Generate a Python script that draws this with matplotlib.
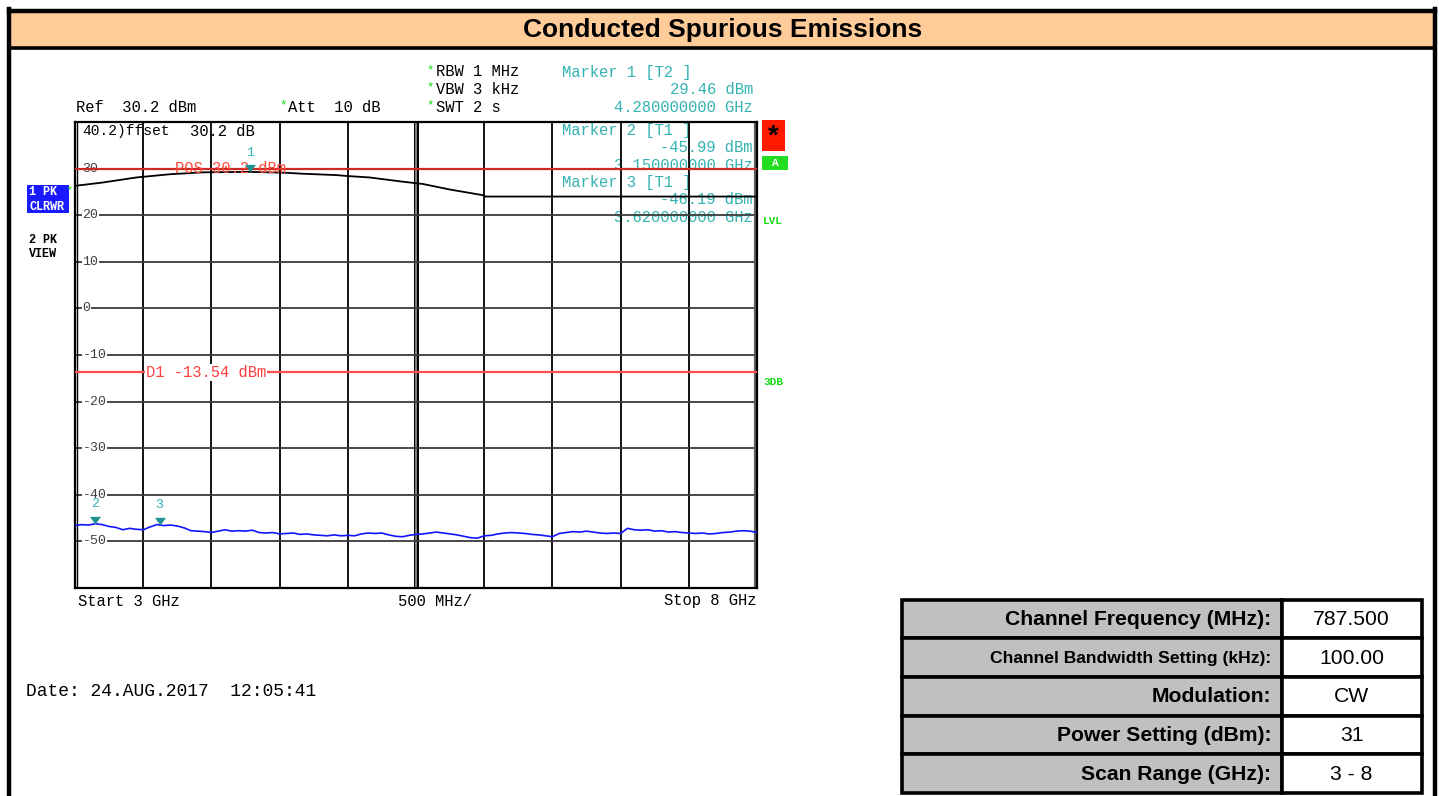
import numpy as np
import matplotlib
matplotlib.use("Agg")
import matplotlib.pyplot as plt
from matplotlib.patches import Rectangle

# ---------------- data ----------------
start_ghz = 3.0
stop_ghz = 8.0
ref_level = 30.2
top_level = 40.2
bottom_level = -59.8
pos_line = 30.2
d1_line = -13.54

# Trace 1 (blue, clear/write peak) sampled every 50 MHz from 3 to 8 GHz
trace1_freq = np.linspace(3.0, 8.0, 101)
trace1_level = [
    -46.4, -46.2, -46.3, -46.0, -46.2, -46.6, -46.8, -47.3, -47.0, -47.2,
    -47.3, -46.7, -46.2, -46.4, -46.3, -46.5, -46.9, -47.5, -47.6, -47.7,
    -47.9, -47.6, -47.3, -47.6, -47.5, -47.6, -47.4, -47.9, -48.0, -47.9,
    -48.2, -48.1, -48.0, -48.3, -48.2, -48.4, -48.5, -48.6, -48.4, -48.6,
    -48.5, -48.6, -48.2, -48.0, -48.1, -48.0, -48.4, -48.7, -48.8, -48.5,
    -48.3, -48.2, -48.0, -47.8, -48.0, -48.2, -48.4, -48.7, -49.0, -49.1,
    -48.6, -48.5, -48.2, -48.0, -47.9, -48.0, -48.1, -48.3, -48.4, -48.6,
    -48.8, -48.1, -47.9, -47.7, -47.8, -47.6, -47.8, -48.0, -48.1, -48.0,
    -48.1, -47.0, -47.3, -47.4, -47.3, -47.6, -47.5, -47.8, -47.7, -47.9,
    -48.0, -48.1, -48.0, -48.2, -48.1, -47.9, -47.8, -47.6, -47.5, -47.6,
    -47.9,
]

# Trace 2 (black, view)
trace2_freq = [3.00, 3.20, 3.45, 3.70, 3.94, 4.28, 4.55, 4.67, 4.92, 5.00,
               5.16, 5.40, 5.55, 5.75, 5.99, 6.01, 8.00]
trace2_level = [26.5, 27.2, 28.3, 29.0, 29.4, 29.5, 29.3, 29.1, 28.8, 28.6,
                28.3, 27.4, 26.9, 25.7, 24.5, 24.2, 24.2]

marker_ids = ["1", "2", "3"]
marker_trace = ["T2", "T1", "T1"]
marker_freq = [4.28, 3.15, 3.62]
marker_level = [29.46, -45.99, -46.19]

grid_levels = [30.2, 20.2, 10.2, 0.2, -9.8, -19.8, -29.8, -39.8, -49.8]
grid_labels = ["30", "20", "10", "0", "-10", "-20", "-30", "-40", "-50"]

table_labels = ["Channel Frequency (MHz):", "Channel Bandwidth Setting (kHz):",
                "Modulation:", "Power Setting (dBm):", "Scan Range (GHz):"]
table_values = ["787.500", "100.00", "CW", "31", "3 - 8"]

title = "Conducted Spurious Emissions"

# ---------------- styling ----------------
MONO = "Liberation Mono"
SANS = "Liberation Sans"
TEAL = "#35b2b2"
TEAL_DARK = "#1d9090"
GREEN = "#11dd11"
W, H = 1439, 796

fig = plt.figure(figsize=(W / 100, H / 100), dpi=100)
fig.patch.set_facecolor("white")

# background / layout axes in pixel units
bg = fig.add_axes([0, 0, 1, 1], zorder=0)
bg.set_xlim(0, W)
bg.set_ylim(H, 0)
bg.axis("off")

# outer frame and title band
bg.add_patch(Rectangle((11, 11), 1422, 36, facecolor="#ffcc99", edgecolor="none"))
bg.plot([9, 1434.5], [10.5, 10.5], color="black", lw=3.2)
bg.plot([9, 1434.5], [47.5, 47.5], color="black", lw=2.6)
bg.plot([9, 9], [9, H], color="black", lw=3.2)
bg.plot([1434.5, 1434.5], [9, H], color="black", lw=3.2)
bg.text(723, 29.5, title, ha="center", va="center", fontsize=19,
        fontweight="bold", family=SANS, color="black")

# table
tx0, tdiv, tx1 = 901.5, 1281.5, 1421.5
row_edges = [599.5, 637.5, 676.5, 715.5, 753.5, 792.5]
for i, (lab, val) in enumerate(zip(table_labels, table_values)):
    y0, y1 = row_edges[i], row_edges[i + 1]
    bg.add_patch(Rectangle((tx0, y0), tdiv - tx0, y1 - y0, facecolor="#c0c0c0",
                           edgecolor="black", lw=2.6))
    bg.add_patch(Rectangle((tdiv, y0), tx1 - tdiv, y1 - y0, facecolor="white",
                           edgecolor="black", lw=2.6))
    fs = 12.6 if len(lab) > 26 else 15.2
    bg.text(tdiv - 10, (y0 + y1) / 2 + 1, lab, ha="right", va="center",
            fontsize=fs, fontweight="bold", family=SANS)
    bg.text((tdiv + tx1) / 2, (y0 + y1) / 2 + 1, val, ha="center", va="center",
            fontsize=15.2, family=SANS)

# header texts over the spectrum
fs_m = 11.2
bg.text(76, 107, "Ref  30.2 dBm", ha="left", va="center", family=MONO, fontsize=fs_m)
bg.text(279, 105, "*", ha="left", va="center", family=MONO, fontsize=9, color=GREEN)
bg.text(288, 107, "Att  10 dB", ha="left", va="center", family=MONO, fontsize=fs_m)
for yy, s in zip([72, 89, 107], ["RBW 1 MHz", "VBW 3 kHz", "SWT 2 s"]):
    bg.text(426, yy - 2, "*", ha="left", va="center", family=MONO, fontsize=9, color=GREEN)
    bg.text(436, yy, s, ha="left", va="center", family=MONO, fontsize=fs_m)

marker_rows_y = [(72, 89, 107), (131, 148, 165), (183, 200, 218)]
for mid, mt, mf, ml, (ya, yb, yc) in zip(marker_ids, marker_trace, marker_freq,
                                          marker_level, marker_rows_y):
    bg.text(562, ya, f"Marker {mid} [{mt} ]", ha="left", va="center",
            family=MONO, fontsize=fs_m, color=TEAL)
    bg.text(753, yb, f"{ml:.2f} dBm", ha="right", va="center",
            family=MONO, fontsize=fs_m, color=TEAL)
    bg.text(753, yc, f"{mf:.9f} GHz", ha="right", va="center",
            family=MONO, fontsize=fs_m, color=TEAL)

bg.text(82, 131, "40.2)ffset", ha="left", va="center", family=MONO, fontsize=10.5)
bg.text(190, 131, "30.2 dB", ha="left", va="center", family=MONO, fontsize=fs_m)

# left side trace labels
bg.add_patch(Rectangle((27, 185), 42, 28, facecolor="#1a1aff", edgecolor="none"))
bg.text(29, 192, "1 PK", ha="left", va="center", family=MONO, fontsize=8.5,
        fontweight="bold", color="white")
bg.text(29, 206.5, "CLRWR", ha="left", va="center", family=MONO, fontsize=8.5,
        fontweight="bold", color="white")
bg.text(67, 190, "*", ha="left", va="center", family=MONO, fontsize=7, color=GREEN)
bg.text(29, 240, "2 PK", ha="left", va="center", family=MONO, fontsize=8.5,
        fontweight="bold", color="black")
bg.text(29, 254, "VIEW", ha="left", va="center", family=MONO, fontsize=8.5,
        fontweight="bold", color="black")

# right side status
bg.add_patch(Rectangle((762, 120), 23, 31, facecolor="#ff1a00", edgecolor="none"))
bg.text(773.5, 137, "*", ha="center", va="center", family=SANS, fontsize=20,
        fontweight="bold", color="black")
bg.add_patch(Rectangle((762, 156), 26, 14, facecolor="#22dd22", edgecolor="none"))
bg.text(775, 163, "A", ha="center", va="center", family=MONO, fontsize=8,
        fontweight="bold", color="white")
bg.text(763, 221, "LVL", ha="left", va="center", family=MONO, fontsize=8,
        fontweight="bold", color=GREEN)
bg.text(763, 382, "3DB", ha="left", va="center", family=MONO, fontsize=8,
        fontweight="bold", color=GREEN)

# bottom labels
bg.text(78, 601, "Start 3 GHz", ha="left", va="center", family=MONO, fontsize=fs_m)
bg.text(398, 601, "500 MHz/", ha="left", va="center", family=MONO, fontsize=fs_m)
bg.text(757, 601, "Stop 8 GHz", ha="right", va="center", family=MONO, fontsize=fs_m)
bg.text(26, 692, "Date: 24.AUG.2017  12:05:41", ha="left", va="center",
        family=MONO, fontsize=13.0)

# ---------------- spectrum axes ----------------
ax = fig.add_axes([75 / W, 1 - 588 / H, 682 / W, 466 / H], zorder=1)
ax.set_facecolor("none")
ax.set_xlim(start_ghz, stop_ghz)
ax.set_ylim(bottom_level, top_level)
ax.set_xticks([])
ax.set_yticks([])
for sp in ax.spines.values():
    sp.set_linewidth(1.6)
    sp.set_color("black")

# grid
div = (stop_ghz - start_ghz) / 10
for k in range(1, 10):
    xg = start_ghz + k * div
    if k == 5:
        ax.axvline(xg, color="black", lw=3.6, zorder=2)
        ax.axvline(xg, color="#9a9a9a", lw=1.2, zorder=2)
    else:
        ax.axvline(xg, color="black", lw=1.3, zorder=2)
for lvl in grid_levels:
    ax.axhline(lvl, color="#3a3a3a", lw=1.3, zorder=2)
# double edges
ax.axvline(start_ghz + 0.018, color="black", lw=1.0, zorder=2)
ax.axvline(stop_ghz - 0.018, color="#606060", lw=1.6, zorder=2)

# y labels
for lvl, lab in zip(grid_levels, grid_labels):
    ax.text(start_ghz + 0.055, lvl, lab, ha="left", va="center", family=MONO,
            fontsize=9.5, color="#404040", zorder=5,
            bbox=dict(facecolor="white", edgecolor="none", pad=0.6))

# display lines
ax.axhline(pos_line, color="#cc2a22", lw=1.6, zorder=5.5)
ax.text(3.73, pos_line, "POS 30.2 dBm", ha="left", va="center", family=MONO,
        fontsize=fs_m, color="#ff4a3a", zorder=6)
ax.axhline(d1_line, color="#ff4d4d", lw=1.6, zorder=3)
ax.text(3.52, d1_line, "D1 -13.54 dBm", ha="left", va="center", family=MONO,
        fontsize=fs_m, color="#ff4040", zorder=6,
        bbox=dict(facecolor="white", edgecolor="none", pad=0.4))

# traces
ax.plot(trace2_freq, trace2_level, color="black", lw=1.3, zorder=4)
ax.plot(trace1_freq, trace1_level, color="#1414ff", lw=1.2, zorder=4)

# markers (tip of triangle on the measured point)
tri = [(0, 0), (-1, 1.4), (1, 1.4), (0, 0)]
for mid, mf, ml in zip(marker_ids, marker_freq, marker_level):
    ax.plot([mf], [ml], marker=tri, markersize=11, color=TEAL_DARK,
            markeredgewidth=0, linestyle="none", zorder=7)
    ax.annotate(mid, (mf, ml), xytext=(0, 14), textcoords="offset points",
                ha="center", va="center", family=MONO, fontsize=9.5,
                color=TEAL, zorder=7)

fig.savefig("out.png", dpi=100, facecolor="white")
